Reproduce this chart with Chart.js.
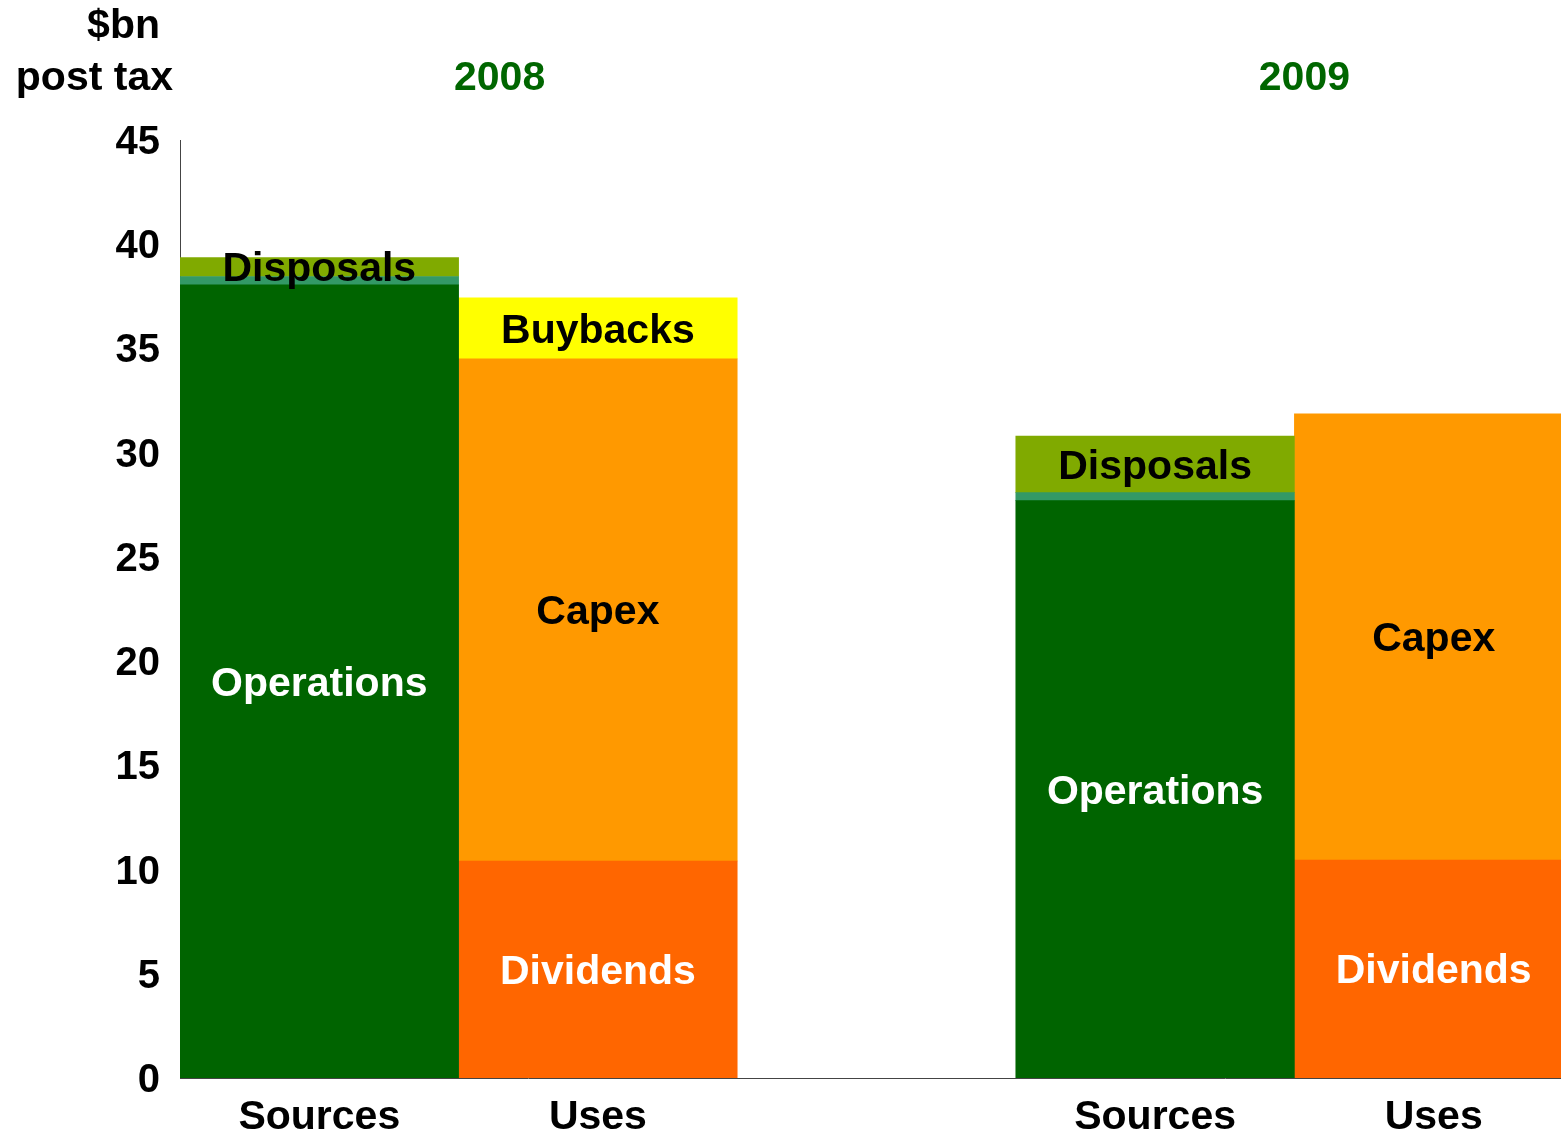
<!DOCTYPE html>
<html>
<head>
<meta charset="utf-8">
<script src="https://cdn.jsdelivr.net/npm/chart.js@4"></script>
<style>
  html, body { margin: 0; padding: 0; background: #fff; overflow: hidden; }
  #chart { display: block; }
</style>
</head>
<body>
<canvas id="chart" width="1573" height="1136" style="width:1573px;height:1136px"></canvas>
<script>
const categories = ['Sources', 'Uses', '', 'Sources', 'Uses'];
const years = ['2008', '2009'];
const yTicks = [0, 5, 10, 15, 20, 25, 30, 35, 40, 45];

const operations = [38.05, null, null, 27.7, null];
const other = [0.4, null, null, 0.38, null];
const disposals = [0.91, null, null, 2.72, null];
const dividends = [null, 10.41, null, null, 10.46];
const capex = [null, 24.09, null, null, 21.4];
const buybacks = [null, 2.93, null, null, null];

const FONT = '"Liberation Sans", Arial, sans-serif';

// text inside each stacked segment
const segmentLabels = {
    id: 'segmentLabels',
    afterDatasetsDraw(chart) {
        const ctx = chart.ctx;
        ctx.save();
        ctx.font = 'bold 41px ' + FONT;
        ctx.textAlign = 'center';
        ctx.textBaseline = 'middle';
        chart.data.datasets.forEach((ds, i) => {
            if (!ds.labelText) return;
            const meta = chart.getDatasetMeta(i);
            meta.data.forEach((bar, j) => {
                if (ds.data[j] == null) return;
                ctx.fillStyle = ds.labelColor;
                ctx.fillText(ds.labelText, bar.x, (bar.y + bar.base) / 2 + 3);
            });
        });
        ctx.restore();
    }
};

// unit title and year headings
const headings = {
    id: 'headings',
    afterDraw(chart) {
        const ctx = chart.ctx;
        const x = chart.scales.x;
        ctx.save();
        ctx.font = 'bold 41px ' + FONT;
        ctx.textBaseline = 'middle';
        ctx.textAlign = 'right';
        ctx.fillStyle = '#000';
        ctx.fillText('$bn', 160, 27);
        ctx.fillText('post tax', 173, 79);
        ctx.textAlign = 'center';
        ctx.fillStyle = '#006600';
        ctx.fillText(years[0], x.getPixelForValue(0.5) + 41, 79);
        ctx.fillText(years[1], x.getPixelForValue(3.5) + 10, 79);
        ctx.restore();
    }
};

function seg(label, data, color, labelText, labelColor) {
    return {
        label: label,
        data: data,
        backgroundColor: color,
        borderWidth: 0,
        labelText: labelText,
        labelColor: labelColor,
        barPercentage: 1,
        categoryPercentage: 1
    };
}

new Chart(document.getElementById('chart'), {
    type: 'bar',
    data: {
        labels: categories,
        datasets: [
            seg('Operations', operations, '#006400', 'Operations', '#ffffff'),
            seg('Other', other, '#339966', null, null),
            seg('Disposals', disposals, '#80aa00', 'Disposals', '#000000'),
            seg('Dividends', dividends, '#ff6600', 'Dividends', '#ffffff'),
            seg('Capex', capex, '#ff9900', 'Capex', '#000000'),
            seg('Buybacks', buybacks, '#ffff00', 'Buybacks', '#000000')
        ]
    },
    options: {
        responsive: false,
        animation: false,
        layout: { padding: { top: 140, left: 0, right: 0, bottom: 0 } },
        plugins: {
            legend: { display: false },
            tooltip: { enabled: false }
        },
        scales: {
            x: {
                stacked: true,
                grid: { display: false, drawTicks: false },
                border: { display: true, color: '#444', width: 1 },
                ticks: { color: '#000', font: { family: FONT, size: 41, weight: 'bold' }, padding: 15, maxRotation: 0, autoSkip: false },
                afterFit(scale) { scale.height = 58; }
            },
            y: {
                stacked: true,
                min: 0,
                max: 45,
                grid: { display: false, drawTicks: false },
                border: { display: true, color: '#444', width: 1 },
                afterBuildTicks(scale) { scale.ticks = yTicks.map(v => ({ value: v })); },
                ticks: { color: '#000', font: { family: FONT, size: 40, weight: 'bold' }, padding: 20, labelOffset: 3 },
                afterFit(scale) { scale.width = 180; }
            }
        }
    },
    plugins: [segmentLabels, headings]
});
</script>
</body>
</html>
